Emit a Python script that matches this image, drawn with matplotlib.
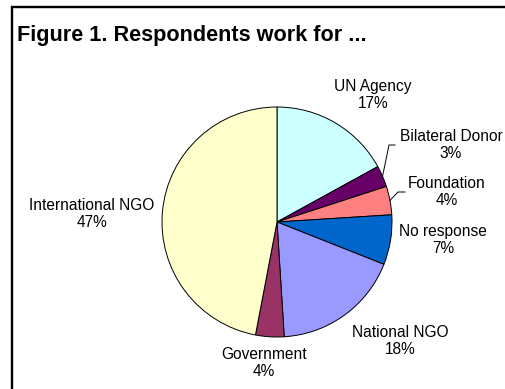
import matplotlib
matplotlib.use("Agg")
import matplotlib.pyplot as plt
import numpy as np

plt.rcParams['font.family'] = ['Liberation Sans', 'DejaVu Sans']

# respondent employer share, clockwise from 12 o'clock
categories = ['UN Agency', 'Bilateral Donor', 'Foundation', 'No response',
              'National NGO', 'Government', 'International NGO']
shares = [17, 3, 4, 7, 18, 4, 47]
colors = ['#CCFFFF', '#660066', '#FF8080', '#0066CC',
          '#9999FF', '#993366', '#FFFFCC']

W, H = 505, 389
fig = plt.figure(figsize=(W / 100, H / 100), dpi=100)
ax = fig.add_axes([0, 0, 1, 1])

# work in pixel units, y measured upward
cx, cy, r = 277, H - 222, 115
wedges, _ = ax.pie(shares, colors=colors, startangle=90, counterclock=False,
                   center=(cx, cy), radius=r,
                   wedgeprops=dict(edgecolor='black', linewidth=0.7))

# label block centres (px from top-left)
label_pos = {
    'UN Agency': (373, 95),
    'Bilateral Donor': (451, 145),
    'Foundation': (447, 192),
    'No response': (443, 240),
    'National NGO': (400, 341),
    'Government': (264, 363),
    'International NGO': (92, 214),
}
# elbow + end of leader lines for the thin slices
leaders = {
    'Bilateral Donor': [(389, 145), (395, 145)],
    'Foundation': [(398, 192), (405, 192)],
}

for w, name, val in zip(wedges, categories, shares):
    lx, ly = label_pos[name]
    ax.text(lx, H - ly, f'{name}\n{val}%', ha='center', va='center',
            fontsize=11.2, linespacing=1.15, color='black')
    if name in leaders:
        mid = np.deg2rad((w.theta1 + w.theta2) / 2)
        xs = [cx + r * np.cos(mid)] + [p[0] for p in leaders[name]]
        ys = [cy + r * np.sin(mid)] + [H - p[1] for p in leaders[name]]
        ax.plot(xs, ys, color='black', linewidth=0.7)

fig.text(17 / W, 1 - 41.5 / H, 'Figure 1. Respondents work for ...',
         fontsize=15.6, fontweight='bold', ha='left', va='baseline')

# outer frame (runs off the right and bottom edges)
ax.plot([11.5, 11.5, W + 10], [-10, H - 6.5, H - 6.5],
        color='black', linewidth=1.7, solid_joinstyle='miter')

ax.set_xlim(0, W)
ax.set_ylim(0, H)
ax.set_aspect('equal')
ax.axis('off')

fig.savefig('out.png', dpi=100)
